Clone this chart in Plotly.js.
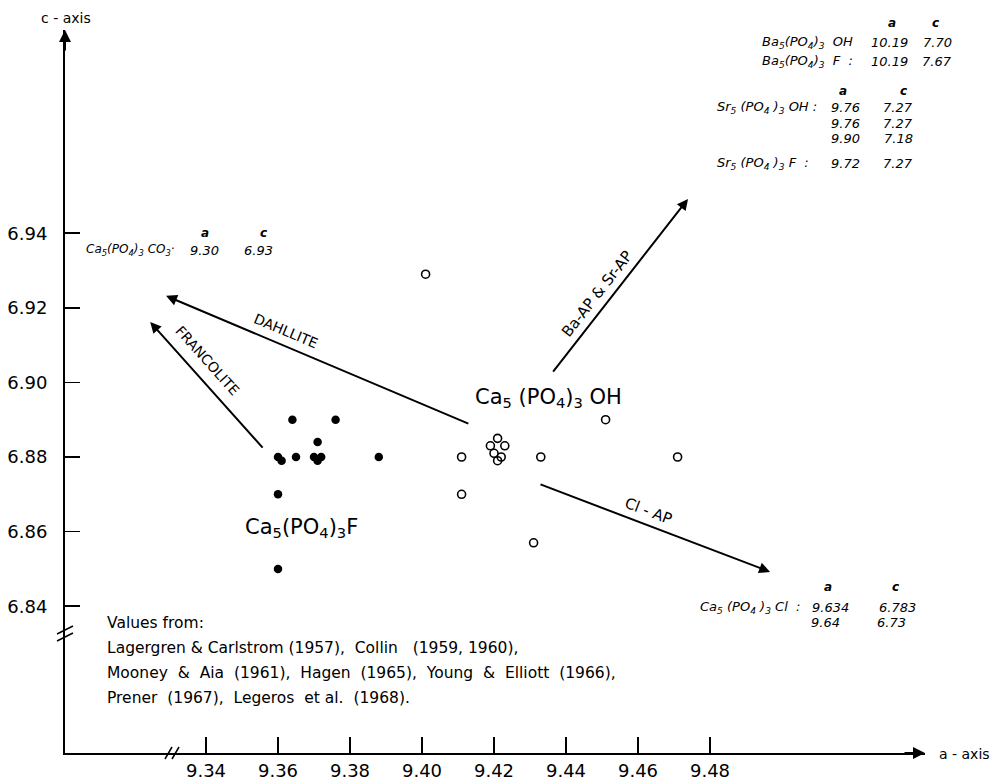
<!DOCTYPE html>
<html><head><meta charset="utf-8">
<script src="https://cdn.plot.ly/plotly-3.0.1.min.js"></script>
<style>html,body{margin:0;padding:0;background:#fff}#chart{width:991px;height:782px}</style>
</head><body><div id="chart"></div>
<script>
// ---------- data ----------
const fluorA = [9.364, 9.376, 9.371, 9.360, 9.361, 9.365, 9.370, 9.372, 9.371, 9.388, 9.360, 9.360];
const fluorC = [6.890, 6.890, 6.884, 6.880, 6.879, 6.880, 6.880, 6.880, 6.879, 6.880, 6.870, 6.850];
const hydroxA = [9.401, 9.451, 9.411, 9.421, 9.419, 9.423, 9.420, 9.422, 9.421, 9.433, 9.471, 9.411, 9.431];
const hydroxC = [6.929, 6.890, 6.880, 6.885, 6.883, 6.883, 6.881, 6.880, 6.879, 6.880, 6.880, 6.870, 6.857];
const xTicks = [9.34, 9.36, 9.38, 9.40, 9.42, 9.44, 9.46, 9.48];
const yTicks = [6.84, 6.86, 6.88, 6.90, 6.92, 6.94];
const trendNames = ['Ba-AP &amp; Sr-AP', 'DAHLLITE', 'FRANCOLITE', 'Cl - AP'];
const trendFromA = [9.4361, 9.4133, 9.3561, 9.4325];
const trendFromC = [6.9025, 6.8888, 6.8821, 6.8728];
const trendToA   = [9.4739, 9.3289, 9.3245, 9.4967];
const trendToC   = [6.9492, 6.9232, 6.9162, 6.8492];
const sources = [
  'Values from:',
  'Lagergren &amp; Carlstrom (1957),  Collin   (1959, 1960),',
  'Mooney  &amp;  Aia  (1961),  Hagen  (1965),  Young  &amp;  Elliott  (1966),',
  'Prener  (1967),  Legeros  et al.  (1968).'
];
const baRows = [['Ba<sub>5</sub>(PO<sub>4</sub>)<sub>3</sub>  OH', '10.19', '7.70'],
                ['Ba<sub>5</sub>(PO<sub>4</sub>)<sub>3</sub>  F  :', '10.19', '7.67']];
const srRows = [['Sr<sub>5</sub> (PO<sub>4</sub> )<sub>3</sub> OH :', '9.76', '7.27'],
                ['', '9.76', '7.27'],
                ['', '9.90', '7.18'],
                ['Sr<sub>5</sub> (PO<sub>4</sub> )<sub>3</sub> F  :', '9.72', '7.27']];
const clRows = [['Ca<sub>5</sub> (PO<sub>4</sub> )<sub>3</sub> Cl  :', '9.634', '6.783'],
                ['', '9.64', '6.73']];
const co3Row = ['Ca<sub>5</sub>(PO<sub>4</sub>)<sub>3</sub> CO<sub>3</sub>·', '9.30', '6.93'];

// ---------- layout geometry ----------
const FONT = 'DejaVu Sans';
const L = 65, R = 925, T = 30, B = 753;
const A0 = 9.34 - (206 - L) / 3600, A1 = 9.34 + (R - 206) / 3600;
const C0 = 6.88 - (B - 457) / 3730, C1 = 6.88 + (457 - T) / 3730;
const PX = v => (v - L) / (R - L);
const PY = v => (B - v) / (B - T);

const ann = [];
function txt(x, y, text, size, o) {
  ann.push(Object.assign({xref: 'paper', yref: 'paper', x: PX(x), y: PY(y), text: text, showarrow: false,
    xanchor: 'center', yanchor: 'middle', font: {family: FONT, size: size, color: '#000'}}, o || {}));
}

// trend arrows
for (let i = 0; i < trendNames.length; i++) {
  ann.push({xref: 'x', yref: 'y', axref: 'x', ayref: 'y', x: trendToA[i], y: trendToC[i],
    ax: trendFromA[i], ay: trendFromC[i], text: '', showarrow: true, arrowhead: 2, arrowsize: 1.1,
    arrowwidth: 2, arrowcolor: '#000', standoff: 0, startstandoff: 0});
}
// trend labels
txt(597, 294, trendNames[0], 15, {textangle: -52});
txt(286, 331, trendNames[1], 14, {textangle: 22.5});
txt(207, 360, trendNames[2], 14, {textangle: 48});
txt(648, 511, trendNames[3], 15, {textangle: 21});

// big formula labels
txt(473, 398, 'Ca<sub>5</sub> (PO<sub>4</sub>)<sub>3</sub> OH', 21, {xanchor: 'left'});
txt(243, 528, 'Ca<sub>5</sub>(PO<sub>4</sub>)<sub>3</sub>F', 21, {xanchor: 'left'});

// axis names
txt(66, 18, 'c - axis', 14);
txt(964, 754, 'a - axis', 14);

// axis arrowheads
ann.push({xref: 'paper', yref: 'paper', x: 0, y: 1, ax: 0, ay: 22, axref: 'pixel', ayref: 'pixel', text: '',
  showarrow: true, arrowhead: 2, arrowsize: 1.2, arrowwidth: 2, arrowcolor: '#000', standoff: 0});
ann.push({xref: 'paper', yref: 'paper', x: 1, y: 0, ax: -22, ay: 0, axref: 'pixel', ayref: 'pixel', text: '',
  showarrow: true, arrowhead: 2, arrowsize: 1.2, arrowwidth: 2, arrowcolor: '#000', standoff: 0});

// tables
const TS = 13;
const I = s => '<i>' + s + '</i>';
const H = s => '<b><i>' + s + '</i></b>';
txt(892, 23, H('a'), 12); txt(935, 23, H('c'), 12);
baRows.forEach((r, k) => {
  const y = 42 + k * 20;
  txt(760, y, I(r[0]), TS, {xanchor: 'left'});
  txt(889, y, I(r[1]), TS); txt(937, y, I(r[2]), TS);
});
txt(843, 91, H('a'), 12); txt(903, 91, H('c'), 12);
const srY = [108, 124, 138, 163];
srRows.forEach((r, k) => {
  if (r[0]) txt(715, srY[k], I(r[0]), TS, {xanchor: 'left'});
  txt(845, srY[k], I(r[1]), TS); txt(898, srY[k], I(r[2]), TS);
});
txt(828, 587, H('a'), 12); txt(895, 587, H('c'), 12);
clRows.forEach((r, k) => {
  const y = 607 + k * 15;
  if (r[0]) txt(698, y, I(r[0]), TS, {xanchor: 'left'});
  txt(k ? 825 : 830, y, I(r[1]), TS); txt(k ? 891 : 897, y, I(r[2]), TS);
});
txt(205, 233, H('a'), 12); txt(263, 233, H('c'), 12);
txt(84, 250, I(co3Row[0]), 12, {xanchor: 'left'});
txt(204, 250, I(co3Row[1]), TS); txt(258, 250, I(co3Row[2]), TS);

// sources
sources.forEach((s, k) => txt(105, 623 + k * 25, s, 15.5, {xanchor: 'left'}));

// axis breaks
const shapes = [];
function seg(x0, y0, x1, y1) {
  shapes.push({type: 'line', xref: 'paper', yref: 'paper', x0: PX(x0), y0: PY(y0), x1: PX(x1), y1: PY(y1),
    line: {color: '#000', width: 1.5}});
}
seg(165, 759, 172, 747); seg(172, 759, 179, 747);
seg(57, 634, 73, 626); seg(57, 641, 73, 633);

const traces = [
  {type: 'scatter', mode: 'markers', x: fluorA, y: fluorC, name: 'Ca5(PO4)3F',
   marker: {symbol: 'circle', size: 8.5, color: '#000'}, cliponaxis: false},
  {type: 'scatter', mode: 'markers', x: hydroxA, y: hydroxC, name: 'Ca5(PO4)3OH',
   marker: {symbol: 'circle-open', size: 8, color: '#000', line: {width: 1.6, color: '#000'}}, cliponaxis: false}
];

const axisCommon = {showline: true, linecolor: '#000', linewidth: 2, ticks: 'inside', tickwidth: 1.5,
  tickcolor: '#000', showgrid: false, zeroline: false, fixedrange: true,
  tickfont: {family: FONT, size: 18, color: '#000'}};
const layout = {
  width: 991, height: 782, showlegend: false,
  paper_bgcolor: '#fff', plot_bgcolor: '#fff',
  margin: {l: L, r: 991 - R, t: T, b: 782 - B, pad: 0},
  xaxis: Object.assign({}, axisCommon, {range: [A0, A1], tickvals: xTicks,
    ticktext: xTicks.map(v => v.toFixed(2)), ticklen: 16}),
  yaxis: Object.assign({}, axisCommon, {range: [C0, C1], tickvals: yTicks,
    ticktext: yTicks.map(v => v.toFixed(2)), ticklen: 15, ticklabelstandoff: 12}),
  annotations: ann, shapes: shapes
};
Plotly.newPlot('chart', traces, layout, {staticPlot: true, displayModeBar: false});
</script></body></html>
